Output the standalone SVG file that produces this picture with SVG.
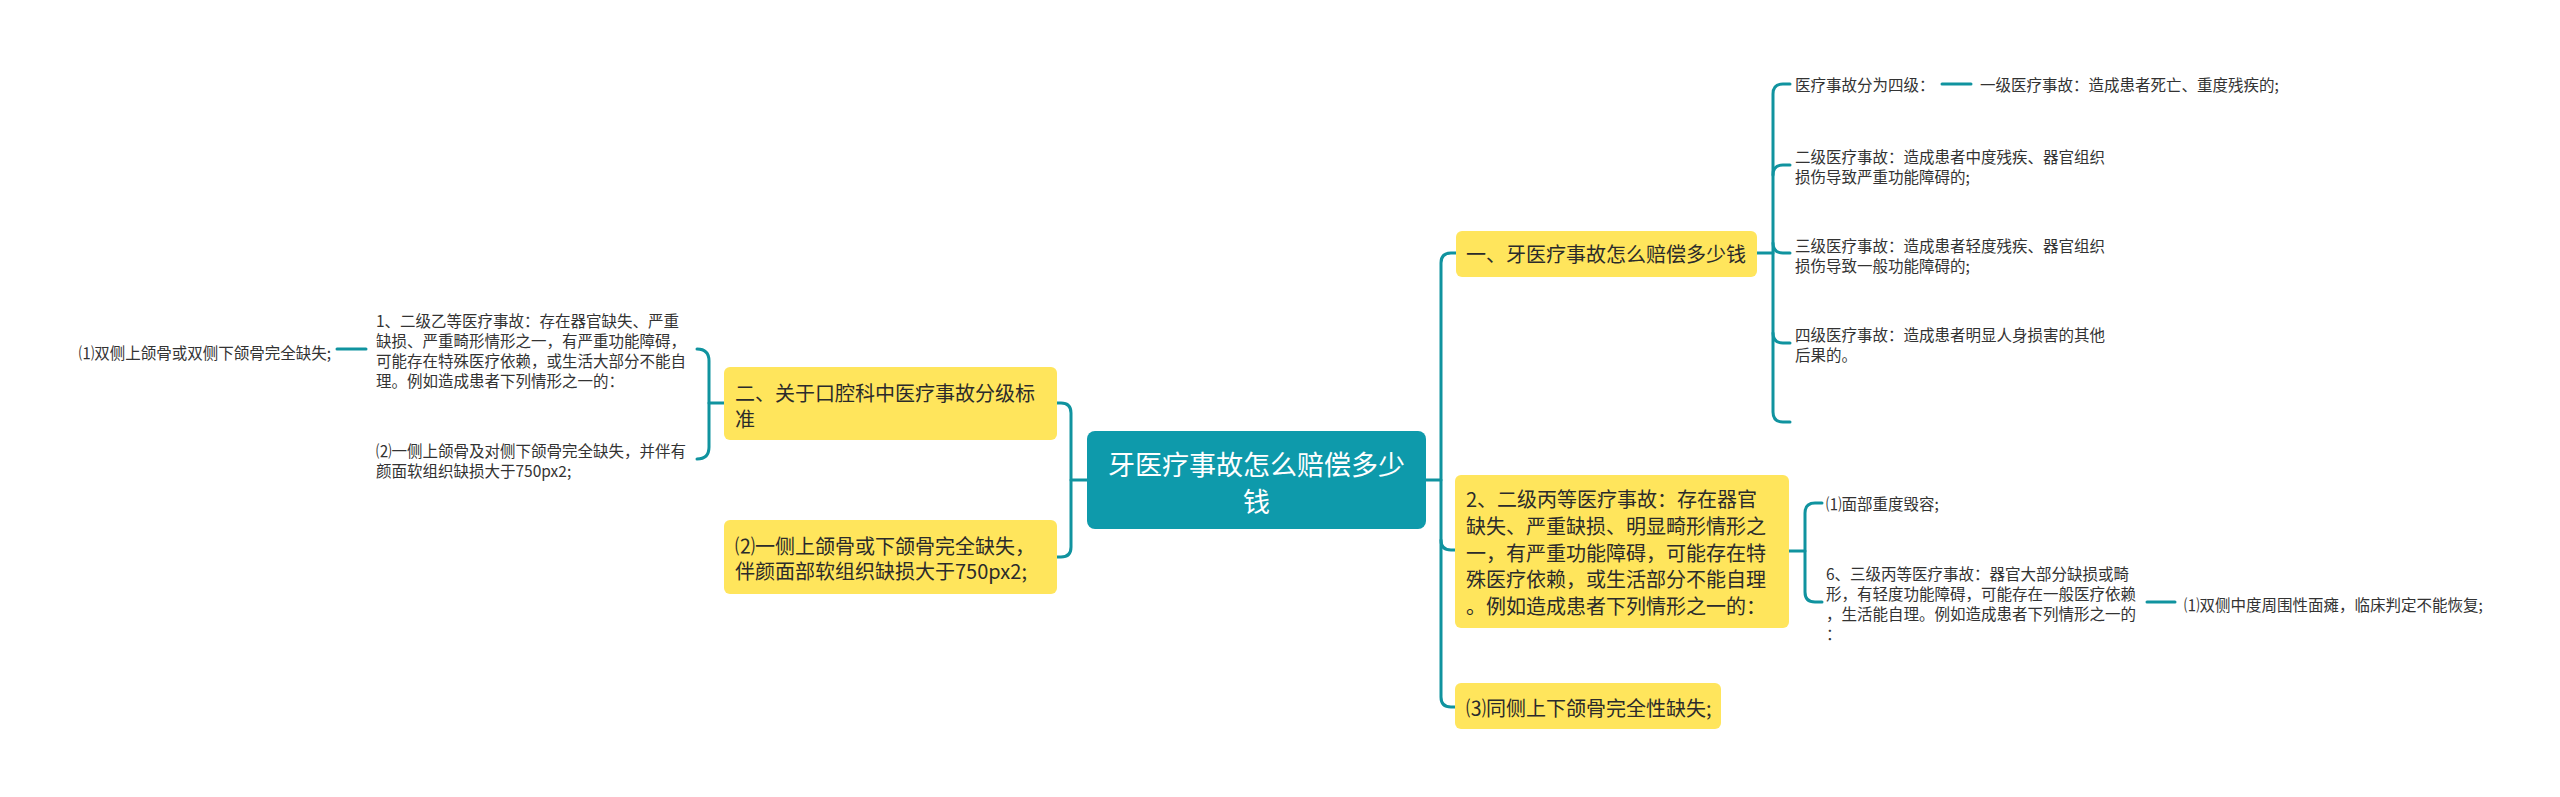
<svg xmlns="http://www.w3.org/2000/svg" width="2560" height="797" viewBox="0 0 2560 797">
<style>
.bg{fill:#ffffff}
.ln{fill:none;stroke:#10939f;stroke-width:3;stroke-linecap:round}
.root{fill:#0e9aab}
.y{fill:#ffe55c}
.tr{font-family:"Noto Sans CJK SC","Noto Sans",sans-serif;font-size:27px;fill:#ffffff;text-anchor:middle;dominant-baseline:central}
.t1{font-family:"Noto Sans CJK SC","Noto Sans",sans-serif;font-size:20px;fill:#2b2b2b;dominant-baseline:central}
.t2{font-family:"Noto Sans CJK SC","Noto Sans",sans-serif;font-size:15.5px;fill:#333333;dominant-baseline:central}
</style>
<rect class="bg" x="0" y="0" width="2560" height="797"/>
<g id="connectors">
<path class="ln" d="M1087 480 H1071"/>
<path class="ln" d="M1057 403 H1061 Q1071 403 1071 413 V547 Q1071 557 1061 557 H1057"/>
<path class="ln" d="M724 403 H709"/>
<path class="ln" d="M697 349 Q709 349 709 361 V447 Q709 459 697 459"/>
<path class="ln" d="M366 349 H337"/>
<path class="ln" d="M1426 480 H1441"/>
<path class="ln" d="M1456 253 H1451 Q1441 253 1441 263 V697 Q1441 707 1451 707 H1455"/>
<path class="ln" d="M1441 540 Q1441 550 1451 550 H1455"/>
<path class="ln" d="M1757 253 H1773"/>
<path class="ln" d="M1790 84 H1783 Q1773 84 1773 94 V412 Q1773 422 1783 422 H1790"/>
<path class="ln" d="M1773 175 Q1773 165 1783 165 H1790"/>
<path class="ln" d="M1773 333 Q1773 343 1783 343 H1790"/>
<path class="ln" d="M1773 243 Q1773 253 1783 253 H1790"/>
<path class="ln" d="M1942 84 H1971"/>
<path class="ln" d="M1789 551 H1805"/>
<path class="ln" d="M1822 503 H1815 Q1805 503 1805 513 V592 Q1805 602 1815 602 H1822"/>
<path class="ln" d="M2147 602 H2175"/>
</g>
<g id="root">
<rect class="root" x="1087" y="431" width="339" height="98" rx="8"/>
<text class="tr" x="1256.5" y="463">牙医疗事故怎么赔偿多少</text>
<text class="tr" x="1256.5" y="500">钱</text>
</g>
<g id="n-left-a">
<rect class="y" x="724" y="367" width="333" height="73" rx="6"/>
<text class="t1" x="735" y="392">二、关于口腔科中医疗事故分级标</text>
<text class="t1" x="735" y="418">准</text>
</g>
<g id="n-left-b">
<rect class="y" x="724" y="520" width="333" height="74" rx="6"/>
<text class="t1" x="735" y="545">⑵一侧上颌骨或下颌骨完全缺失，</text>
<text class="t1" x="735" y="570">伴颜面部软组织缺损大于750px2;</text>
</g>
<g id="n-left-a1">
<text class="t2" x="376" y="320">1、二级乙等医疗事故：存在器官缺失、严重</text>
<text class="t2" x="376" y="340">缺损、严重畸形情形之一，有严重功能障碍，</text>
<text class="t2" x="376" y="360">可能存在特殊医疗依赖，或生活大部分不能自</text>
<text class="t2" x="376" y="380">理。例如造成患者下列情形之一的：</text>
</g>
<g id="n-left-a1-1">
<text class="t2" x="331" y="352" text-anchor="end">⑴双侧上颌骨或双侧下颌骨完全缺失;</text>
</g>
<g id="n-left-a2">
<text class="t2" x="376" y="450">⑵一侧上颌骨及对侧下颌骨完全缺失，并伴有</text>
<text class="t2" x="376" y="470">颜面软组织缺损大于750px2;</text>
</g>
<g id="n-right-1">
<rect class="y" x="1456" y="231" width="301" height="46" rx="6"/>
<text class="t1" x="1466" y="253">一、牙医疗事故怎么赔偿多少钱</text>
</g>
<g id="n-right-1-1">
<text class="t2" x="1795" y="84">医疗事故分为四级：</text>
</g>
<g id="n-right-1-1-1">
<text class="t2" x="1980" y="84">一级医疗事故：造成患者死亡、重度残疾的;</text>
</g>
<g id="n-right-1-2">
<text class="t2" x="1795" y="156">二级医疗事故：造成患者中度残疾、器官组织</text>
<text class="t2" x="1795" y="176">损伤导致严重功能障碍的;</text>
</g>
<g id="n-right-1-3">
<text class="t2" x="1795" y="245">三级医疗事故：造成患者轻度残疾、器官组织</text>
<text class="t2" x="1795" y="265">损伤导致一般功能障碍的;</text>
</g>
<g id="n-right-1-4">
<text class="t2" x="1795" y="334">四级医疗事故：造成患者明显人身损害的其他</text>
<text class="t2" x="1795" y="354">后果的。</text>
</g>
<g id="n-right-2">
<rect class="y" x="1455" y="475" width="334" height="153" rx="6"/>
<text class="t1" x="1466" y="498">2、二级丙等医疗事故：存在器官</text>
<text class="t1" x="1466" y="525">缺失、严重缺损、明显畸形情形之</text>
<text class="t1" x="1466" y="552">一，有严重功能障碍，可能存在特</text>
<text class="t1" x="1466" y="578">殊医疗依赖，或生活部分不能自理</text>
<text class="t1" x="1466" y="605">。例如造成患者下列情形之一的：</text>
</g>
<g id="n-right-2-1">
<text class="t2" x="1826" y="503">⑴面部重度毁容;</text>
</g>
<g id="n-right-2-2">
<text class="t2" x="1826" y="573">6、三级丙等医疗事故：器官大部分缺损或畸</text>
<text class="t2" x="1826" y="593">形，有轻度功能障碍，可能存在一般医疗依赖</text>
<text class="t2" x="1826" y="613">，生活能自理。例如造成患者下列情形之一的</text>
<text class="t2" x="1826" y="633">：</text>
</g>
<g id="n-right-2-2-1">
<text class="t2" x="2184" y="604">⑴双侧中度周围性面瘫，临床判定不能恢复;</text>
</g>
<g id="n-right-3">
<rect class="y" x="1455" y="683" width="266" height="46" rx="6"/>
<text class="t1" x="1466" y="707">⑶同侧上下颌骨完全性缺失;</text>
</g>
</svg>
